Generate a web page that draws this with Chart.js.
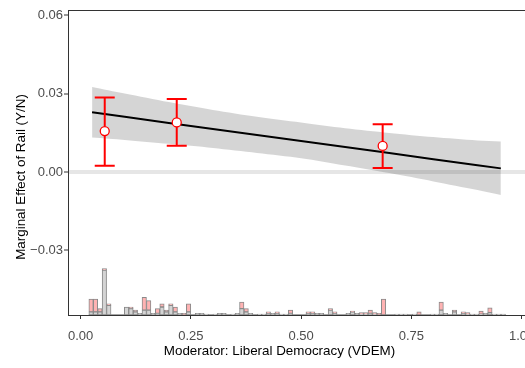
<!DOCTYPE html>
<html>
<head>
<meta charset="utf-8">
<script src="https://cdn.jsdelivr.net/npm/chart.js@4/dist/chart.umd.min.js"></script>
<style>
  html, body { margin: 0; padding: 0; overflow: hidden; background: #fff; }
  #wrap { width: 545px; height: 368px; }
</style>
</head>
<body>
<div id="wrap"><canvas id="chart" width="545" height="368"></canvas></div>
<script>
// Marginal effect line and 95% band
var gridX = [0.026, 0.1, 0.2, 0.3, 0.4, 0.5, 0.6, 0.7, 0.8, 0.9, 0.953];
var effect = [0.0229, 0.0212, 0.0188, 0.0165, 0.0142, 0.0119, 0.0096, 0.0073, 0.0049, 0.0026, 0.0014];
var upper = [0.0326, 0.0301, 0.0268, 0.0238, 0.0212, 0.0190, 0.0168, 0.0150, 0.0134, 0.0121, 0.0117];
var lower = [0.0132, 0.0123, 0.0108, 0.0092, 0.0073, 0.0053, 0.0025, -0.0004, -0.0036, -0.0069, -0.0088];

// Binned estimates (low / mid / high terciles)
var binX = [0.0547, 0.218, 0.685];
var binEst = [0.0157, 0.0190, 0.0100];
var binLow = [0.0024, 0.0101, 0.0015];
var binHigh = [0.0286, 0.0280, 0.0183];

// Histogram of the moderator: control (grey) and treated (pink)
var histStart = 0.0187;
var histWidth = 0.01005;
var histControl = [2, 2, 2, 28, 6, 0, 0, 0, 5, 4, 2, 1, 3, 3, 1, 1, 5, 2, 6, 2,
  1, 0, 2, 0, 1, 1, 0.5, 0, 0.5, 1, 1, 0, 0.5, 1, 4, 2, 1, 0, 0.5, 0.5,
  1, 1, 1, 0.5, 0.5, 1, 0, 0, 0, 1, 1, 1, 1, 0, 3, 1, 0, 0, 1, 2,
  1, 0.5, 0.5, 1, 0.5, 0, 0, 0, 0, 0.5, 0.5, 0.5, 0, 0.5, 0, 0, 0, 0.5, 0.5, 3,
  1, 0, 2, 0, 1, 0.5, 0.5, 0.5, 0.5, 1, 1.5, 0.5, 0.5, 0.5];
var histTreated = [8, 8, 2, 1, 1, 0, 0, 0, 0, 1, 1, 0, 8, 6, 0, 3, 2, 1, 1, 3,
  0, 1, 5, 0, 0, 0, 0, 0, 0, 0, 0, 0, 0, 0, 4, 2, 0, 0, 0, 0,
  1, 0, 1, 0, 0, 2, 0, 0, 0, 1, 1, 0, 0, 0, 1, 1, 0, 0, 0, 0.5,
  0, 1, 1, 2, 1, 1, 10, 0, 0, 0, 0, 0, 0, 0, 2, 0, 0, 0, 0, 5,
  0, 0, 1, 0, 1, 1, 0, 0, 2, 0, 3, 0, 0, 0];

var xTicks = [0, 0.25, 0.5, 0.75, 1];
var yTicks = [-0.03, 0, 0.03, 0.06];

var fontFamily = '"Liberation Sans", Arial, sans-serif';

function toPoints(xs, ys) {
  return xs.map(function (x, i) { return { x: x, y: ys[i] }; });
}

var histCenters = histControl.map(function (v, i) { return histStart + (i + 0.5) * histWidth; });
var histEnd = histStart + histControl.length * histWidth;

// Error bars drawn just before the hollow circles
var errorBars = {
  id: 'errorBars',
  beforeDatasetDraw: function (chart, args) {
    if (args.index !== 0) return;
    var ctx = chart.ctx;
    var xs = chart.scales.x, ys = chart.scales.y;
    ctx.save();
    ctx.strokeStyle = '#ff0000';
    ctx.lineWidth = 2;
    for (var i = 0; i < binX.length; i++) {
      var px = xs.getPixelForValue(binX[i]);
      var lo = ys.getPixelForValue(binLow[i]);
      var hi = ys.getPixelForValue(binHigh[i]);
      ctx.beginPath();
      ctx.moveTo(px, lo); ctx.lineTo(px, hi);
      ctx.moveTo(px - 10, lo); ctx.lineTo(px + 10, lo);
      ctx.moveTo(px - 10, hi); ctx.lineTo(px + 10, hi);
      ctx.stroke();
    }
    ctx.restore();
  }
};

// Panel frame and axis titles
var frame = {
  id: 'frame',
  afterDatasetsDraw: function (chart) {
    var a = chart.chartArea, ctx = chart.ctx;
    ctx.save();
    ctx.strokeStyle = '#333333';
    ctx.lineWidth = 1;
    ctx.strokeRect(a.left + 0.5, a.top + 0.5, a.right - a.left, a.bottom - a.top);
    ctx.restore();
  },
  afterDraw: function (chart) {
    var ctx = chart.ctx;
    ctx.save();
    ctx.fillStyle = '#000';
    ctx.font = '13.4px ' + fontFamily;
    ctx.textAlign = 'center';
    ctx.textBaseline = 'middle';
    ctx.fillText('Moderator: Liberal Democracy (VDEM)', 279.5, 351);
    ctx.translate(21.5, 177);
    ctx.rotate(-Math.PI / 2);
    ctx.fillText('Marginal Effect of Rail (Y/N)', 0, 0);
    ctx.restore();
  }
};

var chart = new Chart(document.getElementById('chart'), {
  type: 'line',
  data: {
    datasets: [
      {
        label: 'Binned estimates',
        data: toPoints(binX, binEst),
        showLine: false,
        pointRadius: 4.5,
        pointBackgroundColor: '#ffffff',
        pointBorderColor: '#ff0000',
        pointBorderWidth: 1.3,
        order: 0
      },
      {
        label: 'Marginal effect',
        data: toPoints(gridX, effect),
        borderColor: '#000000',
        borderWidth: 2,
        pointRadius: 0,
        order: 1
      },
      {
        label: 'Upper',
        data: toPoints(gridX, upper),
        borderWidth: 0,
        borderColor: 'rgba(0,0,0,0)',
        pointRadius: 0,
        tension: 0.3,
        order: 2
      },
      {
        label: 'Lower',
        data: toPoints(gridX, lower),
        borderWidth: 0,
        borderColor: 'rgba(0,0,0,0)',
        backgroundColor: 'rgba(0,0,0,0.165)',
        fill: '-1',
        pointRadius: 0,
        tension: 0.3,
        order: 3
      },
      {
        type: 'bar',
        label: 'Control',
        yAxisID: 'y2',
        stack: 'hist',
        data: toPoints(histCenters, histControl),
        backgroundColor: '#d4d4d4',
        borderColor: '#8a8a8a',
        borderWidth: 1,
        borderSkipped: false,
        barPercentage: 1,
        categoryPercentage: 1,
        order: 4
      },
      {
        type: 'bar',
        label: 'Treated',
        yAxisID: 'y2',
        stack: 'hist',
        data: toPoints(histCenters, histTreated),
        backgroundColor: '#ffb3b3',
        borderColor: '#8a8a8a',
        borderWidth: 1,
        borderSkipped: false,
        barPercentage: 1,
        categoryPercentage: 1,
        order: 4
      },
      {
        label: 'Baseline',
        yAxisID: 'y2',
        data: toPoints([histStart, histEnd], [0, 0]),
        borderColor: '#8a8a8a',
        borderWidth: 1.5,
        pointRadius: 0,
        order: 5
      }
    ]
  },
  options: {
    responsive: false,
    devicePixelRatio: 1,
    animation: false,
    layout: { padding: { top: 10, right: 2, left: 0, bottom: 0 } },
    plugins: { legend: { display: false }, tooltip: { enabled: false } },
    scales: {
      x: {
        type: 'linear',
        offset: false,
        min: -0.0286,
        max: 1.04,
        afterBuildTicks: function (scale) {
          scale.ticks = xTicks.map(function (v) { return { value: v }; });
        },
        afterFit: function (scale) { scale.height = 53; },
        border: { display: false },
        grid: { offset: false, drawOnChartArea: false, tickLength: 4, tickColor: '#333333', tickWidth: 1 },
        ticks: {
          autoSkip: false,
          maxRotation: 0,
          padding: 10,
          color: '#4d4d4d',
          font: { family: fontFamily, size: 13 },
          callback: function (v) { return v.toFixed(2); }
        }
      },
      y: {
        min: -0.0548,
        max: 0.0621,
        afterBuildTicks: function (scale) {
          scale.ticks = yTicks.map(function (v) { return { value: v }; });
        },
        afterFit: function (scale) { scale.width = 68; },
        border: { display: false },
        grid: {
          color: function (c) { return c.tick && c.tick.value === 0 ? '#e6e6e6' : 'rgba(0,0,0,0)'; },
          lineWidth: function (c) { return c.tick && c.tick.value === 0 ? 4 : 0; },
          tickLength: 4,
          tickColor: '#333333',
          tickWidth: 1
        },
        ticks: {
          padding: 1,
          color: '#4d4d4d',
          font: { family: fontFamily, size: 13 },
          callback: function (v) { return (v < 0 ? '\u2212' : '') + Math.abs(v).toFixed(2); }
        }
      },
      y2: {
        display: false,
        stacked: true,
        min: 0,
        max: 190.6
      }
    }
  },
  plugins: [errorBars, frame]
});
</script>
</body>
</html>
